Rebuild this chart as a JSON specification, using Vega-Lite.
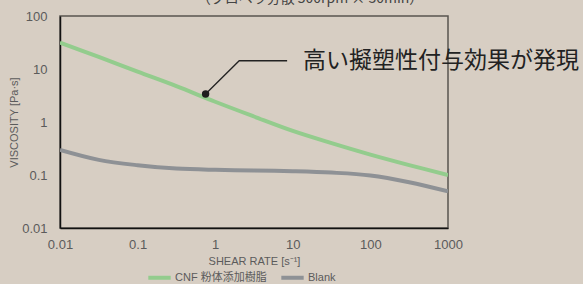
{
  "$schema": "https://vega.github.io/schema/vega-lite/v6.json",
  "width": 388,
  "height": 212,
  "autosize": {"type": "none"},
  "padding": {"left": 60, "top": 16, "right": 135, "bottom": 56},
  "background": "#d7cec3",
  "config": {
    "view": {"stroke": "#5a5650", "strokeWidth": 1.5},
    "font": "Liberation Sans, Noto Sans CJK JP, sans-serif",
    "axis": {"grid": false, "ticks": false, "domainColor": "#111", "domainWidth": 1.5, "labelColor": "#5b5b5b", "titleColor": "#5b5b5b", "labelFontSize": 13, "titleFontSize": 11, "titleFontWeight": "normal", "labelFlush": false}
  },
  "title": {"text": "（プロペラ分散 500rpm × 30min）", "fontSize": 14, "fontWeight": "normal", "color": "#444", "anchor": "middle", "dx": 56, "offset": 4, "font": "Noto Sans CJK JP"},
  "datasets": {
    "curves": [
      {"x": 0.01, "y": 31.5, "s": "CNF 粉体添加樹脂"},
      {"x": 0.0316, "y": 16.9, "s": "CNF 粉体添加樹脂"},
      {"x": 0.1, "y": 8.9, "s": "CNF 粉体添加樹脂"},
      {"x": 0.316, "y": 4.75, "s": "CNF 粉体添加樹脂"},
      {"x": 1, "y": 2.41, "s": "CNF 粉体添加樹脂"},
      {"x": 3.16, "y": 1.27, "s": "CNF 粉体添加樹脂"},
      {"x": 10, "y": 0.68, "s": "CNF 粉体添加樹脂"},
      {"x": 31.6, "y": 0.4, "s": "CNF 粉体添加樹脂"},
      {"x": 100, "y": 0.243, "s": "CNF 粉体添加樹脂"},
      {"x": 316, "y": 0.154, "s": "CNF 粉体添加樹脂"},
      {"x": 1000, "y": 0.1, "s": "CNF 粉体添加樹脂"},
      {"x": 0.01, "y": 0.297, "s": "Blank"},
      {"x": 0.0316, "y": 0.193, "s": "Blank"},
      {"x": 0.1, "y": 0.153, "s": "Blank"},
      {"x": 0.316, "y": 0.132, "s": "Blank"},
      {"x": 1, "y": 0.125, "s": "Blank"},
      {"x": 3.16, "y": 0.122, "s": "Blank"},
      {"x": 10, "y": 0.118, "s": "Blank"},
      {"x": 31.6, "y": 0.111, "s": "Blank"},
      {"x": 100, "y": 0.098, "s": "Blank"},
      {"x": 316, "y": 0.073, "s": "Blank"},
      {"x": 1000, "y": 0.049, "s": "Blank"}
    ],
    "pointer": [
      {"x": 0.752, "y": 3.37, "o": 1},
      {"x": 2.04, "y": 14.3, "o": 2},
      {"x": 8.45, "y": 14.3, "o": 3}
    ],
    "dot": [{"x": 0.752, "y": 3.37}],
    "note": [{"x": 13.5, "y": 14.3, "t": "高い擬塑性付与効果が発現"}]
  },
  "layer": [
    {
      "data": {"name": "curves"},
      "mark": {"type": "line", "interpolate": "catmull-rom", "strokeWidth": 4, "clip": true},
      "encoding": {
        "x": {"field": "x", "type": "quantitative", "scale": {"type": "log", "domain": [0.01, 1000]}, "axis": {"values": [0.01, 0.1, 1, 10, 100, 1000], "format": "~g", "labelPadding": 10, "title": "SHEAR RATE [s⁻¹]", "titlePadding": 4}},
        "y": {"field": "y", "type": "quantitative", "scale": {"type": "log", "domain": [0.01, 100]}, "axis": {"values": [0.01, 0.1, 1, 10, 100], "format": "~g", "labelPadding": 13, "title": "VISCOSITY [Pa·s]", "titlePadding": 2}},
        "color": {"field": "s", "type": "nominal", "scale": {"domain": ["CNF 粉体添加樹脂", "Blank"], "range": ["#93cc8d", "#8e9195"]}, "legend": {"title": null, "orient": "none", "direction": "horizontal", "legendX": 86, "legendY": 248, "symbolType": "stroke", "symbolStrokeWidth": 4, "symbolSize": 500, "labelFontSize": 11, "labelColor": "#5b5b5b", "labelOffset": 2, "columnPadding": 6, "font": "Liberation Sans, Noto Sans CJK JP"}}
      }
    },
    {
      "data": {"name": "pointer"},
      "mark": {"type": "line", "color": "#222", "strokeWidth": 1.3},
      "encoding": {
        "x": {"field": "x", "type": "quantitative"},
        "y": {"field": "y", "type": "quantitative"},
        "order": {"field": "o"}
      }
    },
    {
      "data": {"name": "dot"},
      "mark": {"type": "point", "filled": true, "color": "#1e1e1e", "size": 55, "opacity": 1},
      "encoding": {
        "x": {"field": "x", "type": "quantitative"},
        "y": {"field": "y", "type": "quantitative"}
      }
    },
    {
      "data": {"name": "note"},
      "mark": {"type": "text", "align": "left", "baseline": "middle", "fontSize": 23, "color": "#222", "font": "Noto Sans CJK JP", "clip": false},
      "encoding": {
        "x": {"field": "x", "type": "quantitative"},
        "y": {"field": "y", "type": "quantitative"},
        "text": {"field": "t"}
      }
    }
  ]
}
